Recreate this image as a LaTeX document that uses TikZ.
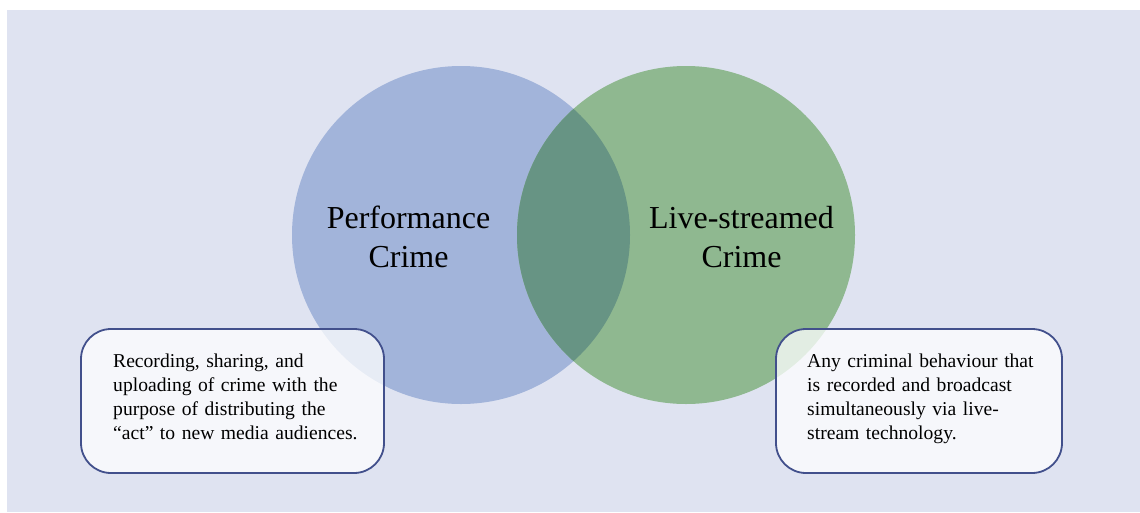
\documentclass[tikz,border=0pt]{standalone}
\usepackage{fontspec}
\setmainfont{Liberation Serif}
\definecolor{bgc}{HTML}{DFE3F1}
\definecolor{bluec}{HTML}{A2B4DA}
\definecolor{greenc}{HTML}{8FB890}
\definecolor{overc}{HTML}{679484}
\definecolor{edgec}{HTML}{42508C}
\tikzset{
  venn/.style={circle, minimum size=338pt, inner sep=0pt, outer sep=0pt},
  vlabel/.style={align=center, font=\fontsize{32pt}{39pt}\selectfont, inner sep=0pt},
  defbox/.style={draw=edgec, line width=1.8pt, fill=white, fill opacity=0.75, draw opacity=1,
                 rounded corners=30pt, minimum height=144pt, inner sep=0pt},
  deftext/.style={align=left, font=\fontsize{19.6pt}{24pt}\selectfont, inner sep=0pt, anchor=base west, text width=250pt}
}
\begin{document}
\begin{tikzpicture}[x=1pt,y=-1pt]
\useasboundingbox (0,0) rectangle (1140,512);
\fill[bgc] (7,10) rectangle (1140,512);
\node[venn, fill=bluec] (pc) at (461,235) {};
\node[venn, fill=greenc] (lc) at (686,235) {};
\begin{scope}
  \clip (461,235) circle (169pt);
  \fill[overc] (686,235) circle (169pt);
\end{scope}
\node[vlabel] (pcl) at (408.5,237) {Performance\\Crime};
\node[vlabel] (lcl) at (741.5,237) {Live-streamed\\Crime};
\node[defbox, minimum width=303pt] (pbox) at (232.5,401) {};
\node[defbox, minimum width=286pt] (lbox) at (919,401) {};
\node[deftext] (ptext) at (113,367.7) {Recording, sharing, and\\uploading of crime with the\\purpose of distributing the\\“act” to new media audiences.};
\node[deftext] (ltext) at (807,367.7) {Any criminal behaviour that\\is recorded and broadcast\\simultaneously via live-\\stream technology.};
\end{tikzpicture}
\end{document}
